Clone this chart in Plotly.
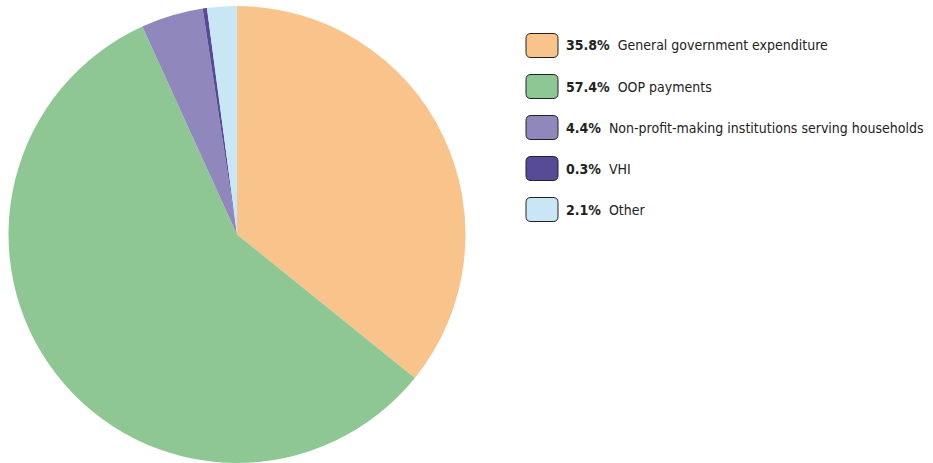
import plotly.graph_objects as go

labels = ["General government expenditure", "OOP payments",
          "Non-profit-making institutions serving households", "VHI", "Other"]
values = [35.8, 57.4, 4.4, 0.3, 2.1]
colors = ["#F8C48C", "#8FC794", "#9088BC", "#574B97", "#C9E6F5"]

W, H = 933, 463

fig = go.Figure(go.Pie(
    labels=labels, values=values, sort=False, direction="clockwise", rotation=0,
    marker=dict(colors=colors, line=dict(width=0)), textinfo="none",
    domain=dict(x=[7 / W, 467 / W], y=[0, 457 / H]), showlegend=False,
))

def px(x):
    return x / W

def py(y):
    return (H - y) / H

def rrect(x0, y0, x1, y1, r):
    p = [f"M {px(x0 + r)},{py(y0)}",
         f"L {px(x1 - r)},{py(y0)}",
         f"Q {px(x1)},{py(y0)} {px(x1)},{py(y0 + r)}",
         f"L {px(x1)},{py(y1 - r)}",
         f"Q {px(x1)},{py(y1)} {px(x1 - r)},{py(y1)}",
         f"L {px(x0 + r)},{py(y1)}",
         f"Q {px(x0)},{py(y1)} {px(x0)},{py(y1 - r)}",
         f"L {px(x0)},{py(y0 + r)}",
         f"Q {px(x0)},{py(y0)} {px(x0 + r)},{py(y0)} Z"]
    return " ".join(p)

font = "DejaVu Sans Condensed, Roboto, sans-serif"
row0, gap = 45.5, 41
for i, (lab, val, col) in enumerate(zip(labels, values, colors)):
    cy = row0 + i * gap
    fig.add_shape(type="path", xref="paper", yref="paper",
                  path=rrect(526, cy - 12, 558, cy + 12, 5),
                  fillcolor=col, line=dict(color="#222222", width=1))
    fig.add_annotation(x=px(564), y=py(cy), xref="paper", yref="paper",
                       xanchor="left", yanchor="middle", showarrow=False,
                       text=f"<b>{val:.1f}%</b>&nbsp; {lab}",
                       font=dict(family=font, size=14, color="#222222"))

fig.update_layout(width=W, height=H, margin=dict(l=0, r=0, t=0, b=0),
                  paper_bgcolor="white", plot_bgcolor="white")
fig.write_html("out.html")
